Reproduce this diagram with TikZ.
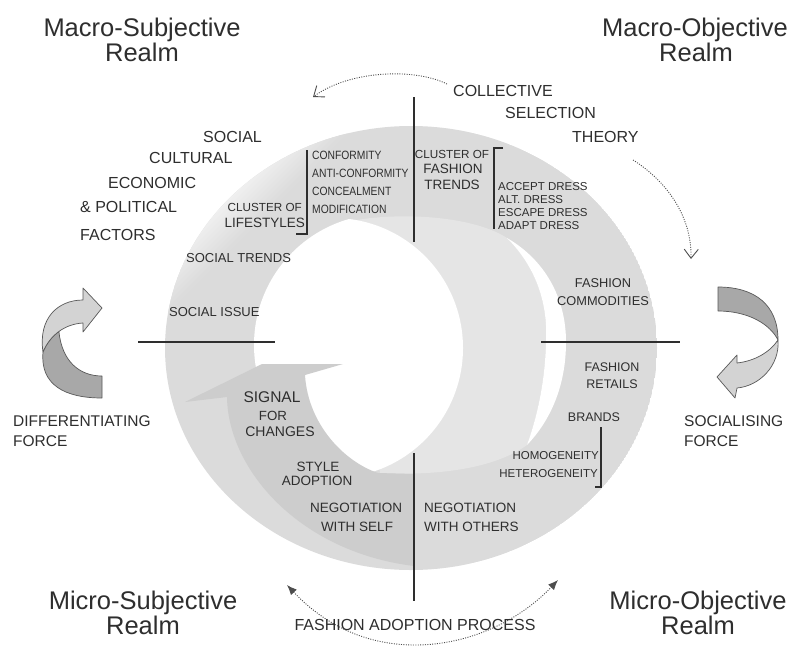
\documentclass[tikz,border=0pt]{standalone}
\usepackage{fontspec}
\setmainfont{Liberation Sans}
\newfontfamily\narrowfont[FakeStretch=0.86]{Liberation Sans}
\usetikzlibrary{arrows.meta}
\definecolor{disk}{HTML}{DBDBDB}
\definecolor{innerg}{HTML}{E5E5E5}
\definecolor{arrowg}{HTML}{CDCDCD}
\definecolor{ink}{HTML}{2E2E2E}
\definecolor{frontg}{HTML}{D3D3D3}
\definecolor{backg}{HTML}{A8A8A8}
\newcommand{\fsz}[1]{\fontsize{#1}{#1}\selectfont}
\begin{document}
\begin{tikzpicture}[x=1pt,y=-1pt,
  lbl/.style={text=ink, inner sep=0pt, font=\fsz{13.5}},
  big/.style={text=ink, inner sep=0pt, font=\fsz{16}},
  ttl/.style={text=ink, inner sep=0pt, font=\fsz{25.5}, anchor=base},
  sml/.style={text=ink, inner sep=0pt, font=\fsz{11.5}},
  nar/.style={text=ink, inner sep=0pt, font=\narrowfont\fsz{12}, anchor=west},
  divider/.style={draw=ink, line width=1.8pt},
  brk/.style={draw=ink, line width=1.5pt},
  dots/.style={draw=ink!85, line width=0.9pt, dash pattern=on 1pt off 1.4pt},
  ribbon/.style={draw=black!65, line width=0.7pt, line join=round}
]
\useasboundingbox (0,0) rectangle (800,664);
\fill[white] (0,0) rectangle (800,664);

% outer disk with fade at upper left
\begin{scope}
  \clip (411,348) ellipse[x radius=246pt, y radius=222pt];
  \fill[disk] (411,348) ellipse[x radius=246pt, y radius=222pt];
  \fill[white] (-200,-200) -- (590,-200) -- (-200,590) -- cycle;
  \foreach \i in {0,...,17}{
    \pgfmathsetmacro\cc{390+5*\i}
    \pgfmathsetmacro\pp{100-100*(\i+0.5)/18}
    \fill[white!\pp!disk] (\cc+200,-200) -- (\cc+206,-200) -- (-200,\cc+206) -- (-200,\cc+200) -- cycle;
  }
\end{scope}

% inner lighter arm of the spiral
\fill[innerg] (347,222) .. controls (390,212) and (470,214) .. (507,238)
  .. controls (537,268) and (548,305) .. (546,342)
  .. controls (545,385) and (536,420) .. (527,445)
  .. controls (495,468) and (440,476) .. (380,473) -- cycle;

% white crescent on the right
\fill[white] (507,238) .. controls (537,268) and (548,305) .. (546,342)
  .. controls (545,385) and (536,420) .. (527,445)
  .. controls (551,420) and (566,385) .. (566,342)
  .. controls (566,298) and (545,260) .. (507,238) -- cycle;

% central white hole (lens)
\begin{scope}
  \clip (385,345) circle[radius=131pt];
  \fill[white] (333,348) circle[radius=130pt];
\end{scope}

% darker arrow band
\fill[arrowg] (343,364) -- (262,364) -- (185,402) -- (227,397)
  .. controls (228,470) and (300,552) .. (414,566) -- (414,474) -- (378,473)
  .. controls (345,462) and (308,425) .. (305,375) -- cycle;

% divider lines
\coordinate (t1) at (414,97);  \coordinate (t2) at (414,242);
\coordinate (b1) at (414,453); \coordinate (b2) at (414,601);
\coordinate (l1) at (138,342); \coordinate (l2) at (275,342);
\coordinate (r1) at (541,342); \coordinate (r2) at (680,342);
\draw[divider] (t1) -- (t2);
\draw[divider] (b1) -- (b2);
\draw[divider] (l1) -- (l2);
\draw[divider] (r1) -- (r2);

% brackets
\coordinate (k1) at (296,234); \coordinate (k2) at (307,234); \coordinate (k3) at (307,150);
\draw[brk] (k1) -- (k2) -- (k3);
\coordinate (k4) at (503,148); \coordinate (k5) at (494,148); \coordinate (k6) at (494,229);
\draw[brk] (k4) -- (k5) -- (k6);
\coordinate (k7) at (601,427); \coordinate (k8) at (601,487); \coordinate (k9) at (595,487);
\draw[brk] (k7) -- (k8) -- (k9);

% dotted arrows
\coordinate (d1) at (447,84); \coordinate (d2) at (313,97);
\draw[dots, -{Straight Barb[length=9pt,width=14pt,line width=0.9pt]}] (d1) .. controls (415,68) and (350,70) .. (d2);
\coordinate (d3) at (633,160); \coordinate (d4) at (691,259);
\draw[dots, -{Straight Barb[length=9pt,width=14pt,line width=0.9pt]}] (d3) .. controls (665,180) and (692,215) .. (d4);
\coordinate (d5) at (287,585); \coordinate (d6) at (415,645); \coordinate (d7) at (558,580);
\draw[dots, {Latex[length=10pt,width=8pt]}-{Latex[length=10pt,width=8pt]}] (d5) .. controls (320,620) and (360,645) .. (d6) .. controls (470,645) and (520,620) .. (d7);

% left ribbon arrow (differentiating force)
\filldraw[ribbon, fill=backg] (43,352) .. controls (40,385) and (65,398) .. (102,398) -- (102,376)
  .. controls (80,376) and (62,362) .. (58.9,331.5)
  .. controls (52,336.5) and (46.5,343.5) .. (43,352) -- cycle;
\filldraw[ribbon, fill=frontg] (43,352) .. controls (38,318) and (58,300) .. (83,300) -- (83,288) -- (102,308)
  -- (83,332) -- (83,323) .. controls (65,324) and (50,335) .. (43,352) -- cycle;

% right ribbon arrow (socialising force)
\filldraw[ribbon, fill=backg] (718,287) .. controls (755,287) and (778,305) .. (778,340)
  .. controls (770,324) and (748,311) .. (718,311) -- cycle;
\filldraw[ribbon, fill=frontg] (778,340) .. controls (780,365) and (760,386) .. (737,388) -- (735,398)
  -- (717,377) -- (737,355) -- (737,363) .. controls (755,361) and (770,352) .. (778,340) -- cycle;

% titles
\node[ttl] (ms1) at (142,36) {Macro-Subjective};
\node[ttl] (ms2) at (142,61) {Realm};
\node[ttl] (mo1) at (695,36) {Macro-Objective};
\node[ttl] (mo2) at (696,61) {Realm};
\node[ttl] (mis1) at (143,609) {Micro-Subjective};
\node[ttl] (mis2) at (143,634) {Realm};
\node[ttl] (mio1) at (698,609) {Micro-Objective};
\node[ttl] (mio2) at (698,634) {Realm};

% theory labels
\node[big, anchor=west] (c1) at (453,91) {COLLECTIVE};
\node[big, anchor=west] (c2) at (505,113) {SELECTION};
\node[big, anchor=west] (c3) at (572,137) {THEORY};

\node[big, anchor=west] (f1) at (203,137) {SOCIAL};
\node[big, anchor=west] (f2) at (149,158) {CULTURAL};
\node[big, anchor=west] (f3) at (108,183) {ECONOMIC};
\node[big, anchor=west] (f4) at (80,207) {\& POLITICAL};
\node[big, anchor=west] (f5) at (80,235) {FACTORS};

\node[big, anchor=west, font=\fsz{15.5}] (df1) at (13,421) {DIFFERENTIATING};
\node[big, anchor=west, font=\fsz{15.5}] (df2) at (13,441) {FORCE};
\node[big, anchor=west, font=\fsz{15.5}] (sf1) at (684,421) {SOCIALISING};
\node[big, anchor=west, font=\fsz{15.5}] (sf2) at (684,441) {FORCE};

\node[big] (fap) at (415,625) {FASHION ADOPTION PROCESS};

% lifestyles
\node[nar] (n1) at (312,155) {CONFORMITY};
\node[nar] (n2) at (312,173) {ANTI-CONFORMITY};
\node[nar] (n3) at (312,191) {CONCEALMENT};
\node[nar] (n4) at (312,209) {MODIFICATION};
\node[sml, anchor=east, font=\fsz{11.7}] (cl1) at (302,207) {CLUSTER OF};
\node[lbl, anchor=east] (cl2) at (305,223) {LIFESTYLES};

% fashion trends
\node[sml, font=\fsz{11.7}] (ct1) at (452,154) {CLUSTER OF};
\node[lbl] (ct2) at (453,169) {FASHION};
\node[lbl] (ct3) at (452,185) {TRENDS};
\node[sml, anchor=west] (a1) at (498,187) {ACCEPT DRESS};
\node[sml, anchor=west] (a2) at (498,200) {ALT. DRESS};
\node[sml, anchor=west] (a3) at (498,213) {ESCAPE DRESS};
\node[sml, anchor=west] (a4) at (498,226) {ADAPT DRESS};

\node[lbl, anchor=west, font=\fsz{13}] (st) at (186,258) {SOCIAL TRENDS};
\node[lbl, anchor=west, font=\fsz{13}] (si) at (169,312) {SOCIAL ISSUE};

\node[lbl, font=\fsz{12.8}] (fc1) at (603,283) {FASHION};
\node[lbl, font=\fsz{12.8}] (fc2) at (603,301) {COMMODITIES};
\node[lbl, font=\fsz{12.5}] (fr1) at (612,367) {FASHION};
\node[lbl, font=\fsz{12.5}] (fr2) at (612,384) {RETAILS};
\node[lbl, font=\fsz{12.5}] (br) at (594,417) {BRANDS};
\node[sml, anchor=east] (h1) at (599,456) {HOMOGENEITY};
\node[sml, anchor=east] (h2) at (598,474) {HETEROGENEITY};

\node[lbl, font=\fsz{15.5}] (sg1) at (272,397) {SIGNAL};
\node[lbl, font=\fsz{13.3}] (sg2) at (273,416) {FOR};
\node[lbl, font=\fsz{14}] (sg3) at (280,432) {CHANGES};
\node[lbl] (sa1) at (318,467) {STYLE};
\node[lbl] (sa2) at (317,481) {ADOPTION};
\node[lbl] (ns1) at (356,508) {NEGOTIATION};
\node[lbl] (ns2) at (357,527) {WITH SELF};
\node[lbl, anchor=west] (no1) at (424,508) {NEGOTIATION};
\node[lbl, anchor=west] (no2) at (424,527) {WITH OTHERS};
\end{tikzpicture}
\end{document}
